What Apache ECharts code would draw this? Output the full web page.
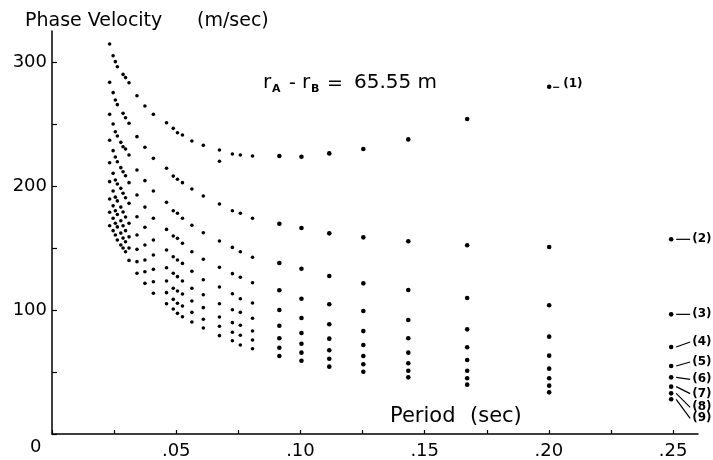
<!DOCTYPE html>
<html>
<head>
    <meta charset="UTF-8"/>
    <title>Phase Velocity</title>
    <style>
        html, body{
            margin: 0;
            background: #fff;
        }
    </style>
    <script src="https://cdn.jsdelivr.net/npm/echarts@6/dist/echarts.min.js"></script>
</head>
<body>
<div id="container" style="width: 713px;height: 460px;"></div>

<script>
  // periods (sec) of the plotted columns
  var periods = [0.0232, 0.0246, 0.0255, 0.0263, 0.0277, 0.0286, 0.0296, 0.0310, 0.0342, 0.0374,
                 0.0408, 0.0461, 0.0488, 0.0505, 0.0525, 0.0563, 0.0609, 0.0674, 0.0726, 0.0758,
                 0.0807, 0.0915, 0.1004, 0.1116, 0.1253, 0.1434, 0.1671, 0.2001, 0.2492];

  // phase velocity (m/sec) of each mode at those periods
  var mode1 = [314.5, 305, 300.3, 296.2, null, 290, 287.4, 283.3, 272.8, 264.5, 257.8, 251, 246.5, 243, 241.1,
               236.3, 232.8, 229, 225.8, 225, 224.2, 224.2, 223.6, 226.3, 229.8, 237.6, 254, 280, null];
  var mode2 = [283.6, 275.3, 269.4, 265.6, null, 258.6, 255.1, 250.6, 239.8, 231.2, 222.3, 214.3, 208, 205.4, 202.7,
               197.6, 191.9, 185.5, 180.1, 178, 174, 169.6, 166.1, 161.8, 158.6, 155.4, 152.2, 150.8, 157];
  var mode3 = [257.8, 250, 243.8, 240.3, 235.2, 231.7, 229.8, 225, 212.9, 204.3, 196, 186.8, 180.1, 178, 174,
               168.3, 162.3, 155.6, 150.5, 147, 142.5, 137.9, 133.3, 127.4, 121.5, 116.1, 109.7, 103.8, 96.5];
  var mode4 = [236.9, 228.5, 223.4, 219.6, 214.8, 211.5, 208.3, 202.7, 192.7, 183, 174, 165, 159.7, 157.8, 153.8,
               147, 140.9, 134.4, 129.3, 126.4, 122, 115.9, 109.1, 104.6, 99.2, 91.9, 84.4, 78.5, 70.2];
  var mode5 = [218.8, 210.2, 204.8, 201.6, 198.1, 194.1, 190.5, 186, 175.2, 166.7, 156.5, 148.4, 143, 140.3, 137.6,
               131.2, 124.4, 118.5, 113.1, 109.1, 105.6, 100, 93.5, 88.5, 83, 77.2, 69.9, 63.2, 54.8];
  var mode6 = [203.5, 196, 191, 188, 183, 179, 175, 170, 160.5, 152.4, 144.4, 134.1, 129.6, 126.9, 123.4,
               117.5, 112.3, 105.1, 100.2, 98.1, 93.3, 87.3, 81.5, 76.9, 71.8, 65.6, 59.7, 52.7, 45.7];
  var mode7 = [189.5, 184, 180, 177, 172, 168, 164, 159, 148.9, 140.3, 132.8, 123.4, 117.5, 115.3, 112.9,
               107.3, 101.9, 94.4, 89.8, 87.7, 83.1, 77.2, 72.8, 67.5, 62.9, 57, 51, 44.9, 38.2];
  var mode8 = [178.8, 174, 170, 167, 162, 158, 155, 150, 139, 130.9, 122.8, 114, 108.6, 105.4, 103.2,
               98.1, 92.5, 86.9, 82, 79.6, 75.8, 69.6, 65.6, 60.7, 56.2, 51, 44.9, 39, 32.8];
  var mode9 = [168, 164, 160.5, 156.5, 152.4, 150, 147, 140, 129.6, 121.5, 113.5, 105.1, 100.8, 97.3, 94.6,
               90.3, 85.5, 79.3, 75.2, 71.8, 68.8, 62.9, 59.1, 54.3, 50.2, 45.7, 39.8, 33.6, 28];
  // the doubled dot on mode 1
  var extraPoints = [[0.0674, 220]];

  var modes = [mode1, mode2, mode3, mode4, mode5, mode6, mode7, mode8, mode9];
  var modeLabels = ['(1)', '(2)', '(3)', '(4)', '(5)', '(6)', '(7)', '(8)', '(9)'];
  // vertical shift of each mode label from its last dot, px
  var labelShift = [-3, 0, 0, -5, -4, 2, 7, 14, 19];

  var FONT = 'DejaVu Sans';
  var dom = document.getElementById('container');
  var myChart = echarts.init(dom);

  function dotSize(v) {
      return v[0] > 0.09 ? 4.6 : 3.6;
  }

  var series = modes.map(function (vals, k) {
      var data = [];
      for (var i = 0; i < periods.length; i++) {
          if (vals[i] != null) data.push([periods[i], vals[i]]);
      }
      return {
          type: 'scatter',
          name: modeLabels[k],
          data: data,
          symbolSize: dotSize,
          itemStyle: {color: '#000', opacity: 1},
          silent: true
      };
  });
  series.push({
      type: 'scatter',
      data: extraPoints,
      symbolSize: 3.6,
      itemStyle: {color: '#000', opacity: 1},
      silent: true
  });

  myChart.setOption({
      backgroundColor: '#fff',
      animation: false,
      grid: {left: 52, right: 15, top: 31, bottom: 26},
      xAxis: {
          type: 'value',
          min: 0,
          max: 0.26,
          interval: 0.025,
          splitLine: {show: false},
          axisLine: {lineStyle: {color: '#000', width: 1.5}},
          axisTick: {inside: true, length: 4, lineStyle: {color: '#000', width: 1.2}},
          axisLabel: {
              color: '#000',
              fontFamily: FONT,
              fontSize: 18,
              margin: 8,
              showMaxLabel: false,
              formatter: function (v) {
                  var n = Math.round(v * 1000);
                  if (n === 0 || n % 50 !== 0) return '';
                  var s = String(Math.round(v * 100));
                  return '.' + (s.length < 2 ? '0' + s : s);
              }
          }
      },
      yAxis: {
          type: 'value',
          min: 0,
          max: 325,
          interval: 50,
          splitLine: {show: false},
          axisLine: {lineStyle: {color: '#000', width: 1.5}},
          axisTick: {inside: true, length: 5, lineStyle: {color: '#000', width: 1.2}},
          axisLabel: {
              color: '#000',
              fontFamily: FONT,
              fontSize: 18,
              margin: 5,
              showMaxLabel: false,
              formatter: function (v) {
                  return (v > 0 && v % 100 === 0) ? String(v) : '';
              }
          }
      },
      series: series
  });

  // texts and mode labels, placed after the axes exist
  var g = [];
  function txt(s, x, y, size, weight) {
      g.push({
          type: 'text',
          silent: true,
          style: {
              text: s, x: x, y: y, fill: '#000',
              font: (weight || 'normal') + ' ' + size + 'px "' + FONT + '"',
              verticalAlign: 'middle', textVerticalAlign: 'middle'
          }
      });
  }
  function line(x1, y1, x2, y2) {
      g.push({
          type: 'line',
          silent: true,
          shape: {x1: x1, y1: y1, x2: x2, y2: y2},
          style: {stroke: '#000', lineWidth: 1.2}
      });
  }

  txt('Phase Velocity', 25, 21, 19);
  txt('(m/sec)', 197, 21, 19);
  txt('Period', 390, 417, 21);
  txt('(sec)', 470, 417, 21);
  txt('0', 30, 447, 18);

  // r_A - r_B = 65.55 m
  txt('r', 263, 83, 20);
  txt('A', 272, 89, 11, 'bold');
  txt('-', 289, 84, 19);
  txt('r', 302, 83, 20);
  txt('B', 311, 89, 11, 'bold');
  txt('=', 327, 84, 19);
  txt('65.55 m', 354, 83, 20);

  modes.forEach(function (vals, k) {
      var i = vals.length - 1;
      while (vals[i] == null) i--;
      var p = myChart.convertToPixel({gridIndex: 0}, [periods[i], vals[i]]);
      var dy = labelShift[k];
      if (k === 0) {
          line(p[0] + 4, p[1] + 0.5, p[0] + 10, p[1] + 0.5);
          txt(modeLabels[k], p[0] + 14, p[1] + dy, 12, 'bold');
      } else {
          line(p[0] + 5, p[1], p[0] + 19, p[1] + dy);
          txt(modeLabels[k], p[0] + 21, p[1] + dy, 12, 'bold');
      }
  });

  myChart.setOption({graphic: g});
</script>

</body>
</html>
